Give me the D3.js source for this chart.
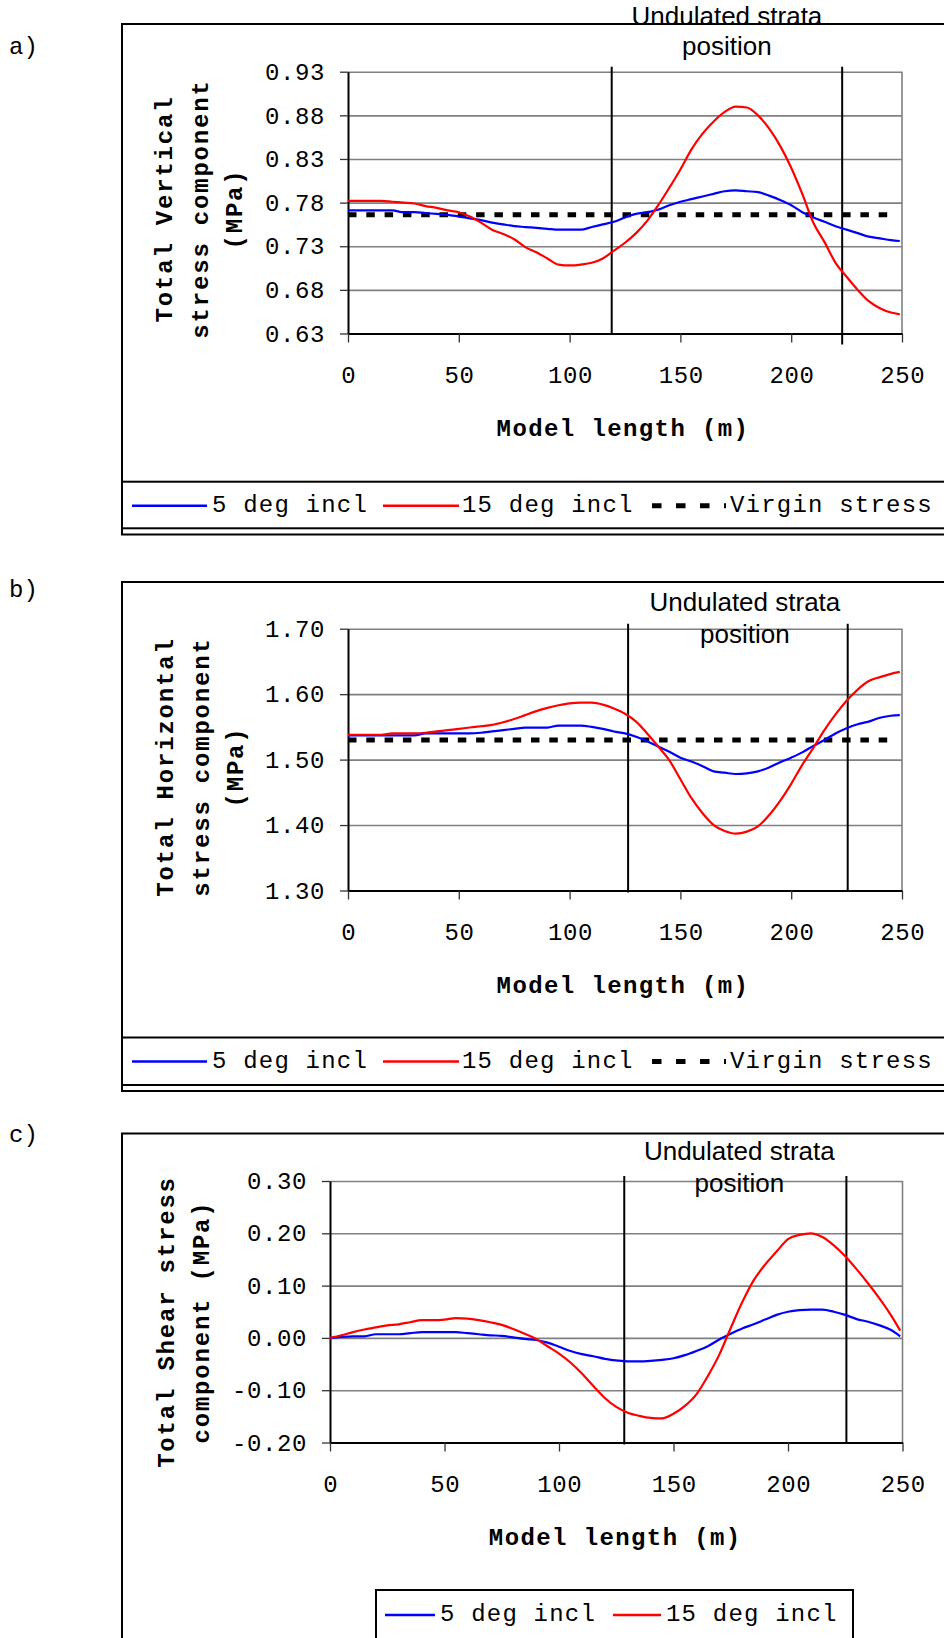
<!DOCTYPE html>
<html><head><meta charset="utf-8">
<script src="https://cdn.jsdelivr.net/npm/d3@7/dist/d3.min.js"></script>
<style>
html,body{margin:0;padding:0;background:#fff;}
svg{display:block;}
</style></head>
<body><svg id="chart" width="944" height="1638"></svg>
<script>
// ---------------- DATA ----------------
const modelLength = [0,5,10,15,20,25,30,35,40,45,50,55,60,65,70,75,80,85,90,95,100,105,110,115,120,125,130,135,140,145,150,155,160,165,170,175,180,185,190,195,200,205,210,215,220,225,230,235,240,245,249];

const vertical5 = [0.771,0.771,0.771,0.771,0.771,0.769,0.769,0.768,0.767,0.766,0.764,0.762,0.760,0.757,0.755,0.753,0.752,0.751,0.750,0.749,0.749,0.749,0.752,0.755,0.758,0.763,0.767,0.769,0.772,0.777,0.781,0.784,0.787,0.790,0.793,0.794,0.793,0.792,0.788,0.783,0.777,0.769,0.763,0.758,0.753,0.749,0.745,0.741,0.739,0.737,0.736];
const vertical15 = [0.782,0.782,0.782,0.782,0.781,0.780,0.779,0.776,0.774,0.771,0.769,0.764,0.757,0.749,0.744,0.738,0.729,0.723,0.716,0.709,0.708,0.709,0.711,0.716,0.725,0.734,0.745,0.759,0.777,0.797,0.818,0.841,0.859,0.873,0.884,0.890,0.889,0.880,0.865,0.845,0.820,0.790,0.757,0.735,0.711,0.695,0.680,0.667,0.659,0.654,0.652];

const horizontal5 = [1.537,1.537,1.537,1.537,1.537,1.537,1.537,1.540,1.540,1.540,1.540,1.540,1.541,1.543,1.545,1.547,1.549,1.549,1.549,1.552,1.552,1.552,1.550,1.547,1.543,1.540,1.535,1.528,1.520,1.512,1.503,1.497,1.490,1.482,1.480,1.478,1.479,1.482,1.488,1.496,1.503,1.511,1.521,1.530,1.540,1.548,1.554,1.558,1.564,1.567,1.568];
const horizontal15 = [1.538,1.538,1.538,1.538,1.540,1.540,1.540,1.541,1.543,1.545,1.547,1.549,1.551,1.553,1.557,1.562,1.568,1.574,1.579,1.583,1.586,1.587,1.587,1.584,1.578,1.570,1.558,1.540,1.520,1.499,1.470,1.441,1.418,1.400,1.391,1.387,1.390,1.398,1.415,1.437,1.463,1.492,1.518,1.545,1.569,1.590,1.607,1.620,1.626,1.631,1.634];

const shear5 = [0.000,0.002,0.003,0.003,0.007,0.007,0.007,0.009,0.011,0.011,0.011,0.011,0.009,0.007,0.005,0.004,0.001,-0.002,-0.004,-0.009,-0.017,-0.025,-0.031,-0.035,-0.040,-0.043,-0.045,-0.045,-0.044,-0.042,-0.039,-0.033,-0.025,-0.016,-0.003,0.008,0.018,0.026,0.035,0.044,0.050,0.053,0.054,0.054,0.050,0.044,0.036,0.031,0.024,0.015,0.003];
const shear15 = [0.000,0.005,0.011,0.016,0.020,0.024,0.026,0.030,0.034,0.034,0.035,0.038,0.037,0.034,0.030,0.025,0.017,0.008,-0.002,-0.016,-0.030,-0.047,-0.068,-0.092,-0.115,-0.132,-0.143,-0.149,-0.153,-0.154,-0.145,-0.130,-0.108,-0.073,-0.032,0.019,0.068,0.110,0.140,0.165,0.189,0.197,0.200,0.193,0.177,0.156,0.131,0.104,0.075,0.043,0.014];

const virginExtent = [0, 245];
const virginVertical = 0.766;
const virginHorizontal = 1.530;

const strataA = [119, 223];
const strataB = [126.4, 225.5];
const strataC = [128.5, 225.5];

const xTicks = [0, 50, 100, 150, 200, 250];
const xTickLabels = ["0", "50", "100", "150", "200", "250"];

const yTicksA = [0.63, 0.68, 0.73, 0.78, 0.83, 0.88, 0.93];
const yTickLabelsA = ["0.63", "0.68", "0.73", "0.78", "0.83", "0.88", "0.93"];
const yTicksB = [1.30, 1.40, 1.50, 1.60, 1.70];
const yTickLabelsB = ["1.30", "1.40", "1.50", "1.60", "1.70"];
const yTicksC = [-0.20, -0.10, 0.00, 0.10, 0.20, 0.30];
const yTickLabelsC = ["-0.20", "-0.10", "0.00", "0.10", "0.20", "0.30"];

const seriesNames = ["5 deg incl", "15 deg incl", "Virgin stress"];
const panelLabels = ["a)", "b)", "c)"];
const titleA = ["Total Vertical", "stress component", "(MPa)"];
const titleB = ["Total Horizontal", "stress component", "(MPa)"];
const titleC = ["Total Shear stress", "component (MPa)"];
const xTitle = "Model length (m)";
const strataText = ["Undulated strata", "position"];

// ---------------- DRAWING ----------------
const MONO = '"Liberation Mono","Courier New",monospace';
const SANS = '"Liberation Sans",Arial,sans-serif';
const BLUE = "#0000ff", RED = "#ff0000";
const svg = d3.select("#chart");

function drawPanel(c) {
  const g = svg.append("g");
  const x = d3.scaleLinear().domain([0, 250]).range([c.L, c.R]);
  const y = d3.scaleLinear().domain(c.yDomain).range([c.B, c.T]);

  // outer frame
  g.append("rect").attr("x", 122).attr("y", c.frameTop)
    .attr("width", 900).attr("height", c.frameBottom - c.frameTop)
    .attr("fill", "none").attr("stroke", "#000").attr("stroke-width", 2);

  // panel label
  g.append("text").attr("x", 9).attr("y", c.labelY).attr("dy", "0.35em")
    .style("font-family", MONO).style("font-size", "24px")
    .text(c.label);

  // gridlines
  g.append("g").attr("transform", `translate(${c.L},0)`)
    .call(d3.axisLeft(y).tickValues(c.yTicks).tickSize(-(c.R - c.L)).tickFormat(""))
    .call(s => {
      s.select(".domain").remove();
      s.selectAll("line").attr("stroke", "#808080").attr("stroke-width", 1.6);
    });
  // plot right border
  g.append("line").attr("x1", c.R).attr("x2", c.R).attr("y1", c.T).attr("y2", c.B)
    .attr("stroke", "#808080").attr("stroke-width", 1.6);

  // y axis
  g.append("g").attr("transform", `translate(${c.L},0)`)
    .call(d3.axisLeft(y).tickValues(c.yTicks).tickSize(8).tickSizeOuter(0).tickPadding(15)
      .tickFormat((d, i) => c.yLabels[i]))
    .call(s => {
      s.select(".domain").attr("stroke", "#000").attr("stroke-width", 2);
      s.selectAll(".tick line").attr("stroke", "#333").attr("stroke-width", 1.3);
      s.selectAll("text").attr("fill", "#000")
        .style("font-family", MONO).style("font-size", "24px").style("letter-spacing", "0.6px");
    });

  // x axis
  g.append("g").attr("transform", `translate(0,${c.B})`)
    .call(d3.axisBottom(x).tickValues(xTicks).tickSize(9).tickSizeOuter(0).tickPadding(23)
      .tickFormat((d, i) => xTickLabels[i]))
    .call(s => {
      s.select(".domain").attr("stroke", "#000").attr("stroke-width", 2);
      s.selectAll(".tick line").attr("stroke", "#333").attr("stroke-width", 1.3);
      s.selectAll("text").attr("fill", "#000").attr("dx", "0.3px")
        .style("font-family", MONO).style("font-size", "24px").style("letter-spacing", "0.6px");
    });

  // strata lines
  c.strata.forEach((s, i) => {
    g.append("line").attr("x1", x(s)).attr("x2", x(s))
      .attr("y1", c.T - 5).attr("y2", c.B + c.strataExt[i])
      .attr("stroke", "#000").attr("stroke-width", 2);
  });

  // virgin stress
  if (c.virgin !== null) {
    g.append("line").attr("x1", x(virginExtent[0])).attr("x2", x(virginExtent[1]))
      .attr("y1", y(c.virgin)).attr("y2", y(c.virgin))
      .attr("stroke", "#000").attr("stroke-width", 5).attr("stroke-dasharray", "8.5,9.8");
  }

  // series
  const line = d3.line().x((d, i) => x(modelLength[i])).y(d => y(d)).curve(d3.curveMonotoneX);
  g.append("path").datum(c.s5).attr("d", line).attr("fill", "none")
    .attr("stroke", BLUE).attr("stroke-width", 2.2);
  g.append("path").datum(c.s15).attr("d", line).attr("fill", "none")
    .attr("stroke", RED).attr("stroke-width", 2.2);

  // strata title
  const tx = x((c.strata[0] + c.strata[1]) / 2) + c.titleDx;
  strataText.forEach((t, i) => {
    g.append("text").attr("x", tx).attr("y", c.titleY[i]).attr("text-anchor", "middle")
      .style("font-family", SANS).style("font-size", "26px").attr("fill", "#000").text(t);
  });

  // y title (rotated)
  c.yTitle.forEach((t, i) => {
    g.append("text")
      .attr("transform", `translate(${c.yTitleX[i]},${c.yTitleCY}) rotate(-90)`)
      .attr("text-anchor", "middle").attr("dy", "0.35em")
      .style("font-family", MONO).style("font-size", "24px").style("font-weight", "bold")
      .style("letter-spacing", "1.8px").attr("fill", "#000").text(t);
  });

  // x title
  g.append("text").attr("x", (c.L + c.R) / 2 + c.xTitleDx).attr("y", c.B + 102)
    .attr("text-anchor", "middle")
    .style("font-family", MONO).style("font-size", "24px").style("font-weight", "bold")
    .style("letter-spacing", "1.4px").attr("fill", "#000").text(xTitle);

  // legend
  const lg = g.append("g");
  lg.append("rect").attr("x", c.legend.x0).attr("y", c.legend.top)
    .attr("width", c.legend.x1 - c.legend.x0).attr("height", c.legend.bottom - c.legend.top)
    .attr("fill", "none").attr("stroke", "#000").attr("stroke-width", 2);
  const ly = c.legend.lineY, ty = c.legend.textY;
  c.legend.items.forEach((it, i) => {
    const ln = lg.append("line").attr("x1", it.l0).attr("x2", it.l1).attr("y1", ly).attr("y2", ly);
    if (i === 0) ln.attr("stroke", BLUE).attr("stroke-width", 2.5);
    else if (i === 1) ln.attr("stroke", RED).attr("stroke-width", 2.5);
    else ln.attr("stroke", "#000").attr("stroke-width", 5).attr("stroke-dasharray", "9.5,14.5");
    lg.append("text").attr("x", it.t).attr("y", ty)
      .style("font-family", MONO).style("font-size", "24px").style("letter-spacing", "1.2px")
      .attr("fill", "#000").text(seriesNames[i]);
  });
}

const legendItemsAB = [
  { l0: 132, l1: 207, t: 212 },
  { l0: 383, l1: 459, t: 462 },
  { l0: 652, l1: 726, t: 730 }
];

drawPanel({
  label: panelLabels[0], labelY: 45.5,
  frameTop: 24, frameBottom: 534.5,
  L: 348, R: 902, T: 71.7, B: 333.5,
  yDomain: [0.63, 0.93], yTicks: yTicksA, yLabels: yTickLabelsA,
  s5: vertical5, s15: vertical15, virgin: virginVertical,
  strata: strataA, strataExt: [1, 11], titleDx: 0, titleY: [25, 55],
  yTitle: titleA, yTitleX: [164, 200, 234], yTitleCY: 209, xTitleDx: -2,
  legend: { x0: 122, x1: 1000, top: 481.7, bottom: 528.3, lineY: 505.7, textY: 511.7, items: legendItemsAB }
});

drawPanel({
  label: panelLabels[1], labelY: 589,
  frameTop: 582, frameBottom: 1091,
  L: 348, R: 902, T: 628.7, B: 890.5,
  yDomain: [1.30, 1.70], yTicks: yTicksB, yLabels: yTickLabelsB,
  s5: horizontal5, s15: horizontal15, virgin: virginHorizontal,
  strata: strataB, strataExt: [2, 0], titleDx: 7, titleY: [610.7, 642.7],
  yTitle: titleB, yTitleX: [165, 201, 235], yTitleCY: 767, xTitleDx: -2,
  legend: { x0: 122, x1: 1000, top: 1037.5, bottom: 1085, lineY: 1061.5, textY: 1067.5, items: legendItemsAB }
});

drawPanel({
  label: panelLabels[2], labelY: 1134,
  frameTop: 1133.5, frameBottom: 1700,
  L: 330, R: 902.5, T: 1181, B: 1442.5,
  yDomain: [-0.20, 0.30], yTicks: yTicksC, yLabels: yTickLabelsC,
  s5: shear5, s15: shear15, virgin: null,
  strata: strataC, strataExt: [2, 0], titleDx: 4, titleY: [1160, 1191.7],
  yTitle: titleC, yTitleX: [166, 201], yTitleCY: 1322, xTitleDx: -1,
  legend: { x0: 376, x1: 853, top: 1590, bottom: 1660, lineY: 1615, textY: 1621,
    items: [ { l0: 385, l1: 435, t: 440 }, { l0: 613, l1: 661, t: 666 } ] }
});
</script>
</body></html>
